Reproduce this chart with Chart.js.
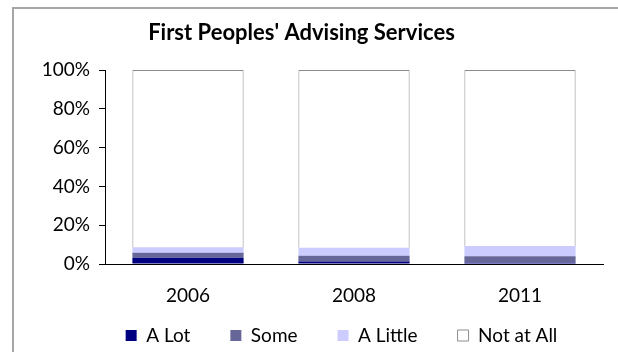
<!DOCTYPE html>
<html>
<head>
<meta charset="utf-8">
<title>First Peoples' Advising Services</title>
<script src="https://cdn.jsdelivr.net/npm/chart.js@4/dist/chart.umd.min.js"></script>
<style>
  html, body { margin: 0; padding: 0; background: #fff; }
  #wrap { width: 618px; height: 352px; }
</style>
</head>
<body>
<div id="wrap"><canvas id="advising"></canvas></div>
<script>
var years = ["2006", "2008", "2011"];
var aLot = [3.2, 1.3, 0.6];
var some = [2.6, 2.9, 3.4];
var aLittle = [2.8, 4.2, 5.3];
var notAtAll = [91.4, 91.6, 90.7];
var yTicks = [0, 20, 40, 60, 80, 100];

// grey frame round the chart; after layout, let the year labels and the
// legend spill below their boxes and nudge the legend right
var frame = {
    id: 'frame',
    afterLayout: function (chart) {
        var h = chart.height;
        chart.scales.x.bottom = h;
        var lg = chart.legend;
        lg.left += 40;
        lg.right += 40;
        lg.top = 286;
        lg.bottom = h;
    },
    beforeDraw: function (chart) {
        var ctx = chart.ctx;
        ctx.save();
        ctx.strokeStyle = '#a6a6a6';
        ctx.lineWidth = 2;
        ctx.strokeRect(13, 8, 700, 400);
        ctx.restore();
    }
};

Chart.defaults.font.family = 'Lato, "Open Sans", sans-serif';
Chart.defaults.color = '#000';

var ctx = document.getElementById('advising').getContext('2d');
new Chart(ctx, {
    type: 'bar',
    data: {
        labels: years,
        datasets: [
            { label: 'A Lot', data: aLot, backgroundColor: '#000080', borderWidth: 0 },
            { label: 'Some', data: some, backgroundColor: '#666699', borderWidth: 0 },
            { label: 'A Little', data: aLittle, backgroundColor: '#ccccff', borderWidth: 0 },
            { label: 'Not at All', data: notAtAll, backgroundColor: '#ffffff', borderColor: '#8c8c8c', borderWidth: 1 }
        ]
    },
    options: {
        responsive: true,
        maintainAspectRatio: false,
        animation: false,
        layout: { padding: { left: 0, right: 15, top: 0, bottom: 30 } },
        datasets: { bar: { categoryPercentage: 0.67, barPercentage: 1 } },
        plugins: {
            title: {
                display: true,
                text: "First Peoples' Advising Services",
                font: { size: 22, weight: 'bold' },
                padding: { top: 20, bottom: 23.6 }
            },
            legend: {
                position: 'bottom',
                maxHeight: 40,
                labels: { boxWidth: 11, boxHeight: 11, padding: 40, font: { size: 19 } }
            },
            tooltip: { enabled: false }
        },
        scales: {
            x: {
                stacked: true,
                afterFit: function (scale) { scale.height = 18; },
                grid: { display: false, drawTicks: false },
                border: { color: '#000', width: 1 },
                ticks: { padding: 20, font: { size: 19 } }
            },
            y: {
                stacked: true,
                min: 0,
                max: 100,
                afterBuildTicks: function (scale) {
                    scale.ticks = yTicks.map(function (v) { return { value: v }; });
                },
                afterFit: function (scale) { scale.width = 105; },
                grid: { drawOnChartArea: false, drawTicks: true, tickLength: 6, color: '#000' },
                border: { color: '#000', width: 1 },
                ticks: {
                    padding: 9,
                    font: { size: 19 },
                    callback: function (v) { return v + '%'; }
                }
            }
        }
    },
    plugins: [frame]
});
</script>
</body>
</html>
